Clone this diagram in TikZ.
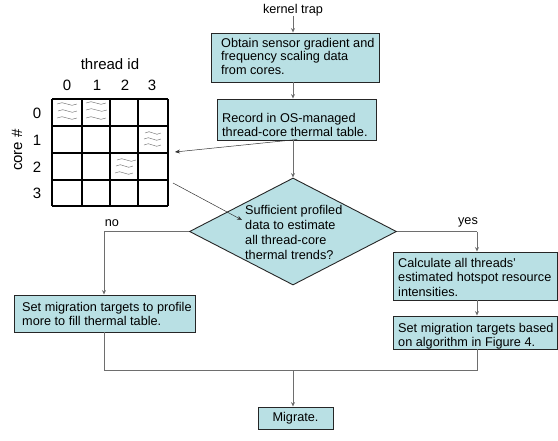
\documentclass[tikz,border=0pt]{standalone}
\usepackage{fontspec}
\setmainfont{Liberation Sans}
\usetikzlibrary{arrows.meta,shapes.geometric}
\definecolor{boxfill}{RGB}{185,224,228}
\definecolor{conn}{RGB}{110,110,110}
\tikzset{
  flowbox/.style={draw=black!85, line width=0.9pt, fill=boxfill, inner sep=0pt, anchor=center,
    font=\fontsize{12.7}{14.5}\selectfont},
  boxtext/.style={anchor=north west, inner sep=0pt, align=left, font=\fontsize{12.7}{14.5}\selectfont},
  flowline/.style={draw=conn, line width=0.8pt},
  flowarrow/.style={flowline, -{Stealth[length=4.5pt,width=4pt]}},
  thinarrow/.style={draw=black!80, line width=0.5pt, -{Stealth[length=5pt,width=4pt]}},
  lbl/.style={font=\fontsize{12.7}{14}\selectfont, inner sep=0pt},
  tlbl/.style={font=\fontsize{15}{17}\selectfont, inner sep=0pt},
  squig/.style={draw=black!55, line width=0.45pt},
  gridline/.style={draw=black, line width=1.2pt}
}
\begin{document}
\begin{tikzpicture}[x=1pt,y=-1pt]
\useasboundingbox (0,0) rectangle (558,440);

% flow nodes
\node[lbl] (kt) at (293,10) {kernel trap};
\node[flowbox, minimum width=168pt, minimum height=49pt] (b1) at (295,57.5) {};
\node[boxtext, font=\fontsize{12.7}{13.4}\selectfont] (t1) at (221,38)
  {Obtain sensor gradient and\\frequency scaling data\\from cores.};
\node[flowbox, minimum width=159pt, minimum height=41pt] (b2) at (296.5,119.5) {};
\node[boxtext] (t2) at (222,113)
  {Record in OS-managed\\thread-core thermal table.};
\node[diamond, draw=black!85, line width=0.9pt, fill=boxfill, minimum width=207pt, minimum height=107pt, inner sep=0pt] (dec) at (293,231.5) {};
\node[boxtext, font=\fontsize{12.7}{15}\selectfont] (dt) at (245,205)
  {Sufficient profiled\\data to estimate\\all thread-core\\thermal trends?};
\node[lbl] (no) at (112,223) {no};
\node[lbl] (yes) at (468,222) {yes};
\node[flowbox, minimum width=181pt, minimum height=37pt] (bl) at (104.5,313.5) {};
\node[boxtext] (tl) at (22,302)
  {Set migration targets to profile\\more to fill thermal table.};
\node[flowbox, minimum width=164pt, minimum height=48pt] (b3) at (475,276) {};
\node[boxtext] (t3) at (398,258)
  {Calculate all threads'\\estimated hotspot resource\\intensities.};
\node[flowbox, minimum width=164pt, minimum height=33pt] (b4) at (475,332.5) {};
\node[boxtext] (t4) at (398,323)
  {Set migration targets based\\on algorithm in Figure 4.};
\node[flowbox, minimum width=75pt, minimum height=22pt] (mig) at (295.5,418) {Migrate.};

% junction coordinates
\coordinate (jl) at (104,231.5);
\coordinate (jr) at (477,231.5);
\coordinate (jbl) at (104,370);
\coordinate (jbr) at (477,370);
\coordinate (jm) at (293,370);

% table
\foreach \x in {52,82,110,138,168} \draw[gridline] (\x,99) -- (\x,206);
\foreach \y in {99,126,153,180,206} \draw[gridline] (52,\y) -- (168,\y);
\node[tlbl] (th) at (110,64) {thread id};
\node[tlbl] (c0) at (67,85) {0};
\node[tlbl] (c1) at (97,85) {1};
\node[tlbl] (c2) at (125,85) {2};
\node[tlbl] (c3) at (152,85) {3};
\node[tlbl] (r0) at (37,113) {0};
\node[tlbl] (r1) at (37,140) {1};
\node[tlbl] (r2) at (37,167) {2};
\node[tlbl] (r3) at (37,193) {3};
\node[tlbl, rotate=90] (core) at (17,150) {core \#};
\coordinate (tA) at (175,152);
\coordinate (tB) at (173,183);
\coordinate (b2s) at (297,139.5);
\coordinate (dtw) at (242,220);

% squiggles
\foreach \x/\y/\w in {57/104/20, 58/111/19, 57/118/20, 86/103/20, 86/110/21, 86/118/20, 145/133/16, 144/139/17, 144/145/17, 117/160/19, 116/166/17, 115/173/18}{
  \draw[squig] (\x,\y) sin ++(\w/4,-1.3) cos ++(\w/4,1.3) sin ++(\w/4,1.3) cos ++(\w/4,-1.3);
}

% connectors
\draw[flowarrow] (kt.south) -- (kt.south |- b1.north);
\draw[flowarrow] (kt.south |- b1.south) -- (kt.south |- b2.north);
\draw[flowarrow] (kt.south |- b2.south) -- (dec.north);
\draw[flowline] (dec.west) -- (jl);
\draw[flowarrow] (jl) -- (jl |- bl.north);
\draw[flowline] (dec.east) -- (jr);
\draw[flowarrow] (jr) -- (jr |- b3.north);
\draw[flowarrow] (jr |- b3.south) -- (jr |- b4.north);
\draw[flowline] (jr |- b4.south) -- (jbr) -- (jbl) -- (jl |- bl.south);
\draw[flowarrow] (jm) -- (jm |- mig.north);
\draw[thinarrow] (b2s) -- (tA);
\draw[thinarrow] (tB) -- (dtw);
\end{tikzpicture}
\end{document}
